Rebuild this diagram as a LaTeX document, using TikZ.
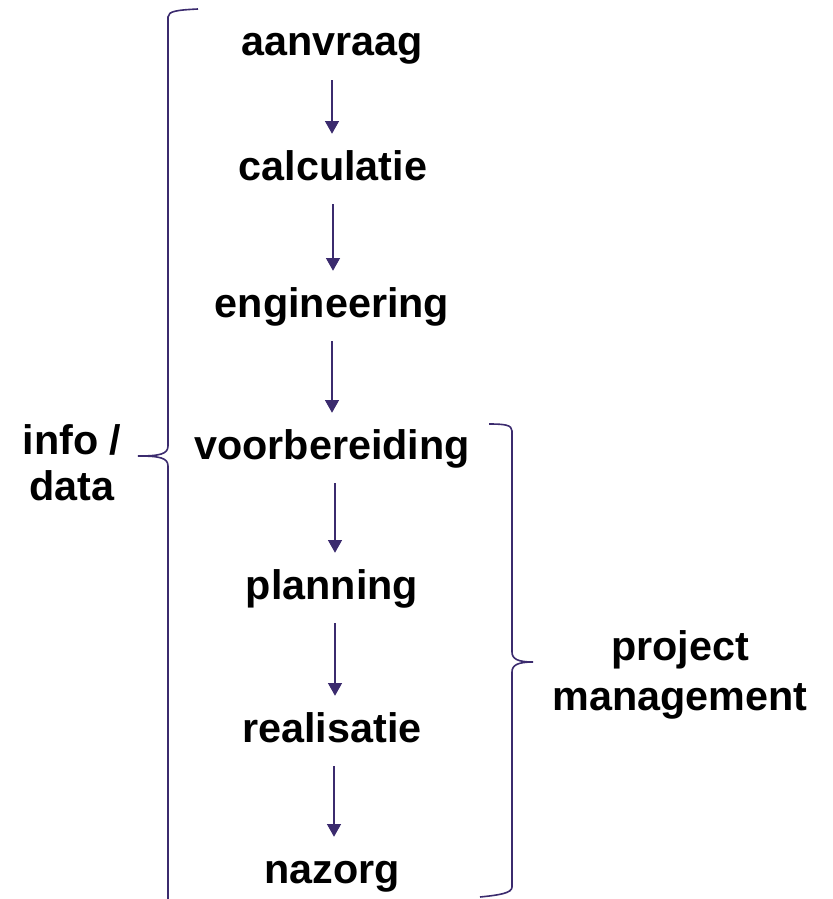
\documentclass[tikz,border=0pt]{standalone}
\usepackage{fontspec}
\setmainfont{Liberation Sans}
\usetikzlibrary{arrows.meta}

\definecolor{paars}{RGB}{59,43,110}

\tikzset{
	stap/.style={font=\bfseries\fontsize{31}{37.5}\selectfont, inner sep=0pt,
		text height=22.5pt, text depth=7.5pt, anchor=base},
	groep/.style={font=\bfseries\fontsize{31}{37.5}\selectfont, inner sep=0pt,
		align=center, anchor=north},
	pijl/.style={draw=paars, line width=0.9pt, -{Triangle[width=10.5pt,length=9.5pt]},
		shorten <=10.5pt, shorten >=12pt},
	accolade/.style={draw=paars, line width=1.2pt}
}

\begin{document}
\begin{tikzpicture}[x=0.75pt,y=-0.75pt]
	
	\useasboundingbox (0,0) rectangle (832,899);
	
	\node[stap] (aan) at (332,56) {aanvraag};
	
	\node[stap] (calc) at (333,180) {calculatie};
	
	\node[stap] (eng) at (332,317) {engineering};
	
	\node[stap] (voor) at (332,459) {voorbereiding};
	
	\node[stap] (plan) at (332,599) {planning};
	
	\node[stap] (real) at (332,742) {realisatie};
	
	\node[stap] (naz) at (332,883) {nazorg};
	
	\node[groep] (info) at (72,424) {info /\\[-3pt]data};
	
	\node[groep] (pm) at (680,630) {project\\management};
	
	\draw[pijl] (aan.south) -- (aan.south |- calc.north);
	\draw[pijl] (calc.south) -- (calc.south |- eng.north);
	\draw[pijl] (eng.south) -- (eng.south |- voor.north);
	\draw[pijl] ([xshift=2.25pt]voor.south) -- ([xshift=2.25pt]voor.south |- plan.north);
	\draw[pijl] ([xshift=2.25pt]plan.south) -- ([xshift=2.25pt]plan.south |- real.north);
	\draw[pijl] ([xshift=1.5pt]real.south) -- ([xshift=1.5pt]real.south |- naz.north);
	
	% accolades
	\draw[accolade] (198,9) .. controls (178,10) and (168,11) .. (168,17) -- (168,446)
		.. controls (168,454) and (160,456) .. (138,456)
		.. controls (160,456) and (168,458) .. (168,466) -- (168,899);
	\draw[accolade] (489,424) .. controls (505,424) and (512,425) .. (512,431) -- (512,652)
		.. controls (512,659) and (518,662) .. (533,662)
		.. controls (518,662) and (512,665) .. (512,672) -- (512,887)
		.. controls (512,893) and (500,895) .. (480,897);
	
\end{tikzpicture}
\end{document}
